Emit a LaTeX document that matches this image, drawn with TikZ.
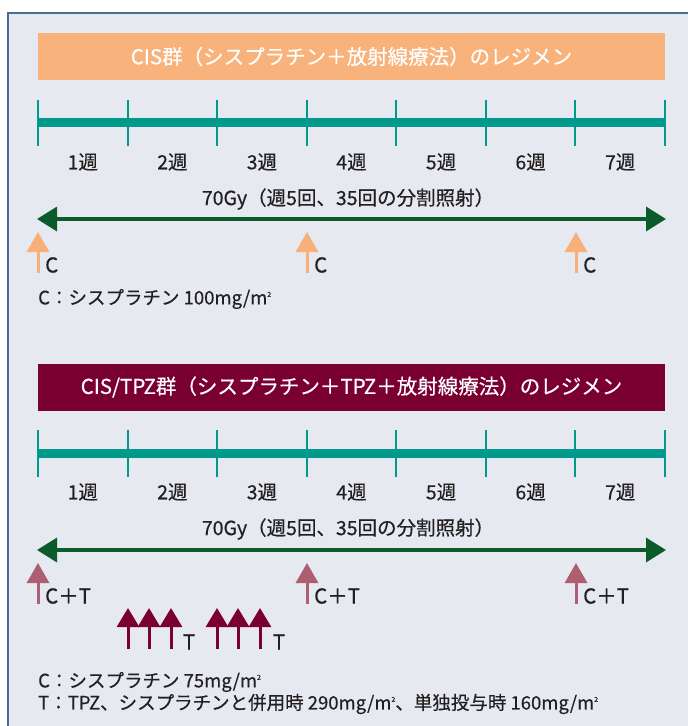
\documentclass[tikz,border=0pt]{standalone}
\usepackage{fontspec}
\setmainfont{Noto Sans CJK JP}[FakeBold=0.4]
\usetikzlibrary{arrows.meta}
\definecolor{panelbg}{HTML}{E6E9EF}
\definecolor{panelborder}{HTML}{4C6A96}
\definecolor{orangehdr}{HTML}{F8B27B}
\definecolor{redhdr}{HTML}{7B0032}
\definecolor{tealbar}{HTML}{00998B}
\definecolor{darkgreen}{HTML}{0B5B2B}
\definecolor{orangearrow}{HTML}{F8B07A}
\definecolor{mauvearrow}{HTML}{AD5E70}
\definecolor{txt}{HTML}{231F20}
\newcommand{\fs}[1]{\fontsize{#1pt}{#1pt}\selectfont}
\newcommand{\msq}{m\raisebox{0.75ex}{\fontsize{7pt}{7pt}\selectfont 2}}
\tikzset{
  hdrbox/.style={inner sep=0pt, minimum width=627pt, minimum height=47pt, text=white, font=\fs{20.5}},
  barline/.style={tealbar, line width=9pt},
  tickline/.style={tealbar, line width=2pt},
  weeklbl/.style={inner sep=0pt, text=txt, font=\fs{19.5}},
  doselbl/.style={inner sep=0pt, text=txt, font=\fs{20.5}},
  radlbl/.style={inner sep=0pt, text=txt, font=\fs{19.5}},
  legend/.style={inner sep=0pt, anchor=west, text=txt, font=\fs{18.5}},
  radarrow/.style={darkgreen, line width=3.5pt, {Triangle[length=20pt,width=24pt]}-{Triangle[length=20pt,width=24pt]}},
  carrow/.style={line width=3pt, -{Triangle[length=20pt,width=22pt]}},
  tarrow/.style={redhdr, line width=3pt, -{Triangle[length=19pt,width=22pt]}}
}
\begin{document}
\begin{tikzpicture}[x=1pt,y=-1pt]
\useasboundingbox (0,0) rectangle (688,726);
\fill[white] (0,0) rectangle (688,726);
\fill[panelbg] (7,12) rectangle (688,726);
\draw[panelborder, line width=2pt] (8,726) -- (8,13) -- (688,13);

% ---------- Section 1 ----------
\node[hdrbox, fill=orangehdr] (h1) at (351.5,56.5) {CIS群（シスプラチン＋放射線療法）のレジメン};
\draw[barline] (38,122) -- (665,122);
\foreach \i in {0,...,7} {
  \draw[tickline] ({38+\i*89.571},100) -- ({38+\i*89.571},146);
}
\foreach \i in {1,...,7} {
  \node[weeklbl] (wa\i) at ({38+(\i-0.5)*89.571},162) {\i 週};
}
\node[radlbl] (ra) at (348,199) {70Gy（週5回、35回の分割照射）};
\coordinate (raL) at (37,219);
\coordinate (raR) at (666,219);
\draw[radarrow] (raL) -- (raR);
\foreach \x/\n in {38/1,307/2,576/3} {
  \coordinate (cb\n) at (\x,273);
  \coordinate (ct\n) at (\x,232);
  \draw[carrow, orangearrow] (cb\n) -- (ct\n);
  \node[doselbl, anchor=west] (cl\n) at (\x+7,265) {C};
}
\node[legend] (lg1) at (38,299) {C：シスプラチン 100mg/\msq};

% ---------- Section 2 ----------
\node[hdrbox, fill=redhdr] (h2) at (351.5,387) {CIS/TPZ群（シスプラチン＋TPZ＋放射線療法）のレジメン};
\draw[barline] (38,453) -- (665,453);
\foreach \i in {0,...,7} {
  \draw[tickline] ({38+\i*89.571},430) -- ({38+\i*89.571},477);
}
\foreach \i in {1,...,7} {
  \node[weeklbl] (wb\i) at ({38+(\i-0.5)*89.571},492) {\i 週};
}
\node[radlbl] (rb) at (348,529) {70Gy（週5回、35回の分割照射）};
\coordinate (rbL) at (37,550);
\coordinate (rbR) at (666,550);
\draw[radarrow] (rbL) -- (rbR);
\foreach \x/\n in {38/1,307/2,576/3} {
  \coordinate (db\n) at (\x,604);
  \coordinate (dt\n) at (\x,563);
  \draw[carrow, mauvearrow] (db\n) -- (dt\n);
  \node[doselbl, anchor=west] (dl\n) at (\x+7,596) {C＋T};
}
\foreach \x/\n in {128/1,149/2,171/3,217/4,238/5,260/6} {
  \coordinate (tb\n) at (\x,649);
  \coordinate (tt\n) at (\x,608);
  \draw[tarrow] (tb\n) -- (tt\n);
}
\node[doselbl] (tl1) at (189,642) {T};
\node[doselbl] (tl2) at (279,642) {T};
\node[legend] (lg2) at (38,682) {C：シスプラチン 75mg/\msq};
\node[legend] (lg3) at (38,704) {T：TPZ、シスプラチンと併用時 290mg/\msq、単独投与時 160mg/\msq};
\end{tikzpicture}
\end{document}
